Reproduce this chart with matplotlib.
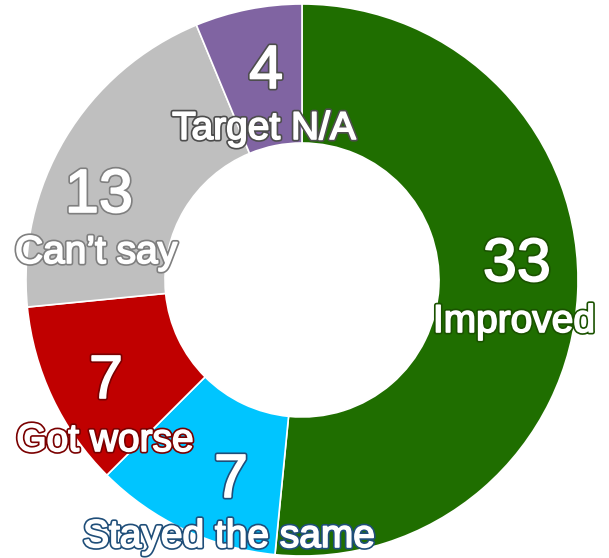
import matplotlib.pyplot as plt
import matplotlib.patheffects as pe

# data
labels = ["Improved", "Stayed the same", "Got worse", "Can\u2019t say", "Target N/A"]
values = [33, 7, 7, 13, 4]
colors = ["#1f6e00", "#00c5ff", "#c00000", "#bfbfbf", "#8064a2"]
outline = ["#1a5200", "#1f4e79", "#7a0000", "#7f7f7f", "#4d4d4d"]

# text layout in image pixels (x, baseline of number, baseline of label)
num_pos = [(517, 281), (231, 497), (106, 398), (99, 212), (266, 88)]
lab_pos = [(514, 332), (229, 547), (105, 451), (96, 263), (264, 139)]

W, H = 609, 558
fig = plt.figure(figsize=(W / 100, H / 100), dpi=100)
ax = fig.add_axes([0, 0, 1, 1])
ax.axis("off")

ax.pie(values, colors=colors, startangle=90, counterclock=False,
       center=(302, H - 280), radius=276,
       wedgeprops=dict(width=139, edgecolor="white", linewidth=1.2))
ax.set_xlim(0, W)
ax.set_ylim(0, H)
ax.set_aspect("equal")

font = "Liberation Sans"


def fx(oc):
    # dark outline with a slightly fattened white glyph
    return [pe.Stroke(linewidth=3.6, foreground=oc),
            pe.Stroke(linewidth=1.2, foreground="white"),
            pe.Normal()]


for v, lab, oc, (nx, ny), (lx, ly) in zip(values, labels, outline, num_pos, lab_pos):
    ax.text(nx, H - ny, str(v), fontsize=44, family=font, color="white",
            ha="center", va="baseline", path_effects=fx(oc))
    ax.text(lx, H - ly, lab, fontsize=28, family=font, color="white",
            ha="center", va="baseline", path_effects=fx(oc))

fig.savefig("out.png", dpi=100)
